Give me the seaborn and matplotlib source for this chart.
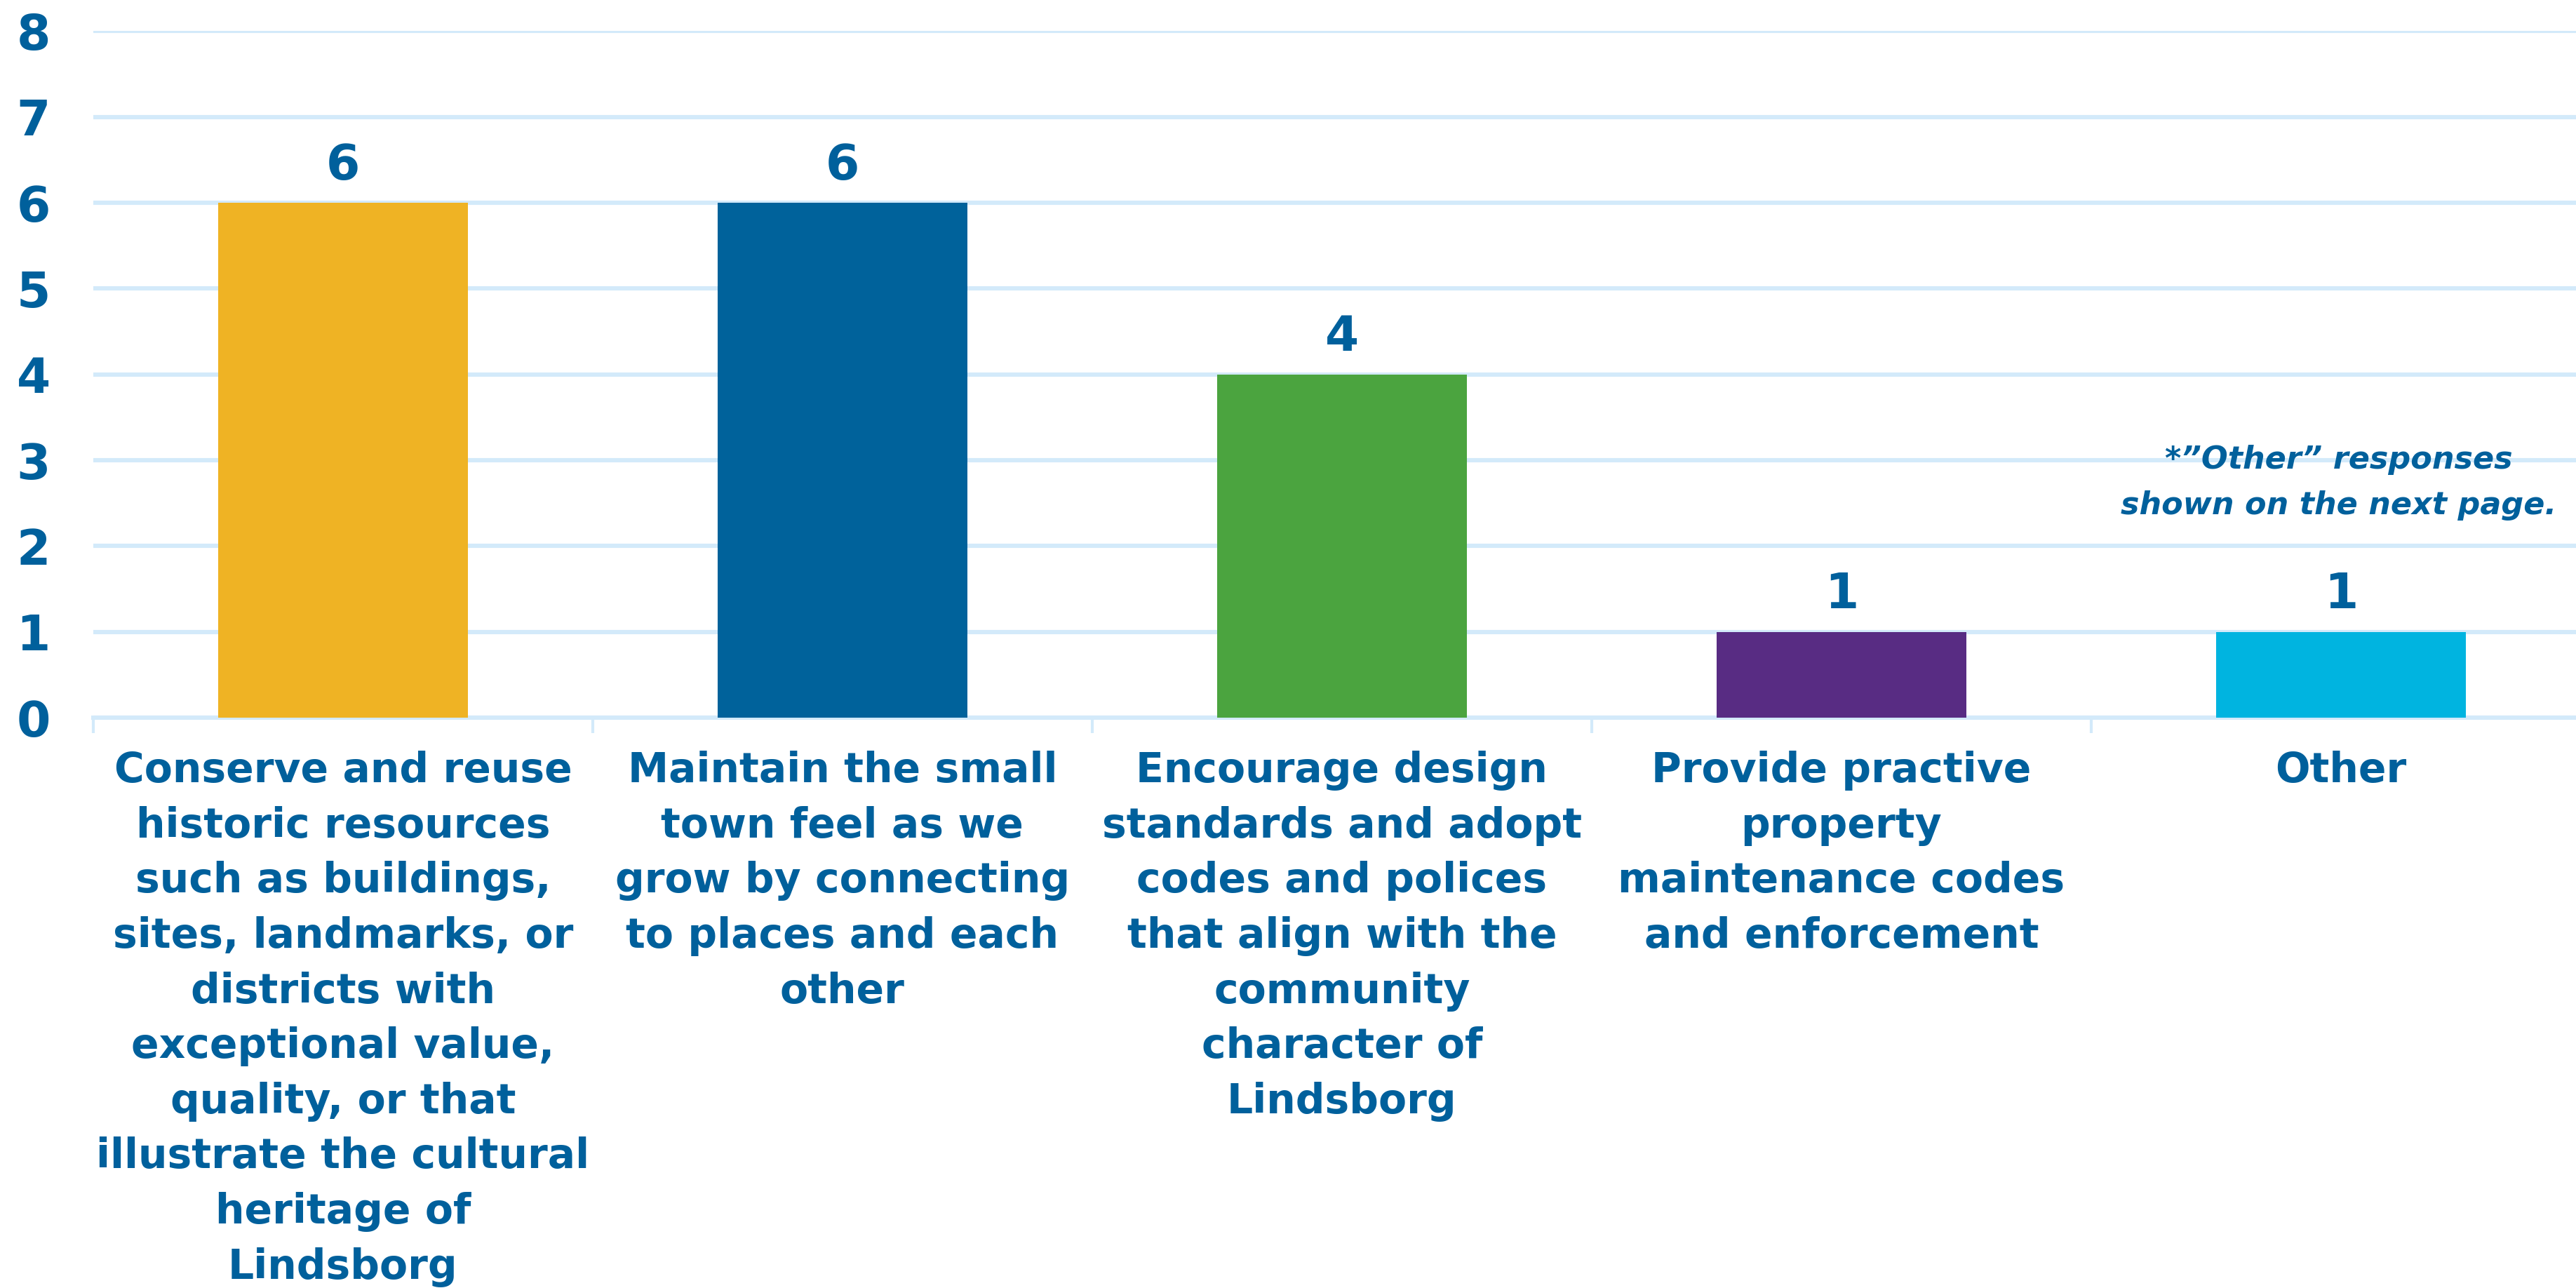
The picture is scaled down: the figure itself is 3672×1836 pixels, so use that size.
import matplotlib
matplotlib.use("Agg")
import matplotlib.pyplot as plt
import seaborn as sns
import pandas as pd

# chart data
categories = [
    "Conserve and reuse\nhistoric resources\nsuch as buildings,\nsites, landmarks, or\ndistricts with\nexceptional value,\nquality, or that\nillustrate the cultural\nheritage of\nLindsborg",
    "Maintain the small\ntown feel as we\ngrow by connecting\nto places and each\nother",
    "Encourage design\nstandards and adopt\ncodes and polices\nthat align with the\ncommunity\ncharacter of\nLindsborg",
    "Provide practive\nproperty\nmaintenance codes\nand enforcement",
    "Other",
]
counts = [6, 6, 4, 1, 1]
bar_colors = ["#EFB324", "#00629B", "#4BA43F", "#582C83", "#00B4E0"]
y_ticks = [0, 1, 2, 3, 4, 5, 6, 7, 8]
note = "*\u201dOther\u201d responses\nshown on the next page."

TEXT = "#00609C"
GRID = "#D3EAFA"

sns.set_style("white")
plt.rcParams["font.family"] = ["DejaVu Sans"]

df = pd.DataFrame({"category": categories, "count": counts})

fig = plt.figure(figsize=(18.36, 9.18), dpi=200)
ax = fig.add_axes([0.0362, 0.4428, 0.9695, 0.533])

sns.barplot(data=df, x="category", y="count", hue="category",
            palette=bar_colors, saturation=1, width=0.5, linewidth=0,
            legend=False, ax=ax, zorder=3)

ax.set_ylim(0, 8)
ax.set_xlim(-0.5, len(categories) - 0.5)
ax.set_yticks(y_ticks)
ax.yaxis.grid(True, color=GRID, linewidth=2.2, zorder=0)
ax.set_axisbelow(True)
for s in ["top", "right", "left"]:
    ax.spines[s].set_visible(False)
ax.spines["bottom"].set_color(GRID)
ax.spines["bottom"].set_linewidth(2.2)

ax.set_xlabel("")
ax.set_ylabel("")
ax.tick_params(axis="y", length=0, pad=22, labelsize=25, labelcolor=TEXT)
for t in ax.get_yticklabels():
    t.set_fontweight("bold")

# category separators below the axis
ax.set_xticks([i - 0.5 for i in range(len(categories) + 1)], minor=True)
ax.tick_params(axis="x", which="minor", bottom=True, length=8, width=1.5, color=GRID)
ax.tick_params(axis="x", which="major", length=0, pad=17)
ax.set_xticks(range(len(categories)))
ax.set_xticklabels(categories, fontsize=21, fontweight="bold", color=TEXT,
                   linespacing=1.48, va="top", ha="center")

for c in ax.containers:
    ax.bar_label(c, padding=7, fontsize=25, fontweight="bold", color=TEXT)

ax.text(3.995, 2.74, note, ha="center", va="center", fontsize=16,
        fontweight="bold", style="italic", color=TEXT, linespacing=1.65)

fig.savefig("out.png", dpi=200)
